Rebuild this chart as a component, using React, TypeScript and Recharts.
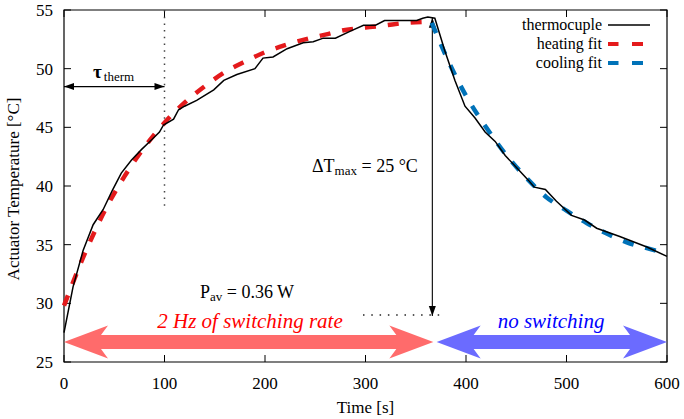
import React from 'react';
import { LineChart, Line, XAxis, YAxis, ReferenceLine, ReferenceArea, ReferenceDot, Legend } from 'recharts';

const FONT = "'Liberation Serif', 'Times New Roman', Times, serif";

// axis ticks
const xTicks = [0, 100, 200, 300, 400, 500, 600];
const yTicks = [25, 30, 35, 40, 45, 50, 55];

// thermocouple measurement
const thermoTime = [0, 9, 19, 29, 39, 48, 57, 67, 77, 88, 95, 99, 109, 114, 120, 132, 149, 159, 172, 190, 198, 208, 222, 238, 248, 258, 270, 285, 298, 310, 319, 351, 357, 362, 369, 379, 389, 399, 409, 419, 429, 439, 450, 462, 468, 479, 490, 505, 518, 530, 553, 580, 600];
const thermoTemp = [27.5, 31.4, 34.5, 36.7, 38.0, 39.6, 41.1, 42.2, 43.1, 44.0, 44.6, 45.2, 45.7, 46.5, 46.8, 47.3, 48.2, 49.0, 49.5, 50.0, 50.9, 51.0, 51.7, 52.2, 52.3, 52.6, 52.6, 53.2, 53.7, 53.7, 54.1, 54.1, 54.3, 54.4, 54.3, 51.5, 49.0, 46.8, 45.8, 44.6, 43.8, 42.6, 41.6, 40.5, 39.9, 39.7, 38.7, 37.5, 37.1, 36.4, 35.7, 34.8, 34.0];

// heating fit
const heatTime = [0, 20, 40, 60, 80, 100, 120, 140, 160, 180, 200, 220, 240, 260, 280, 300, 320, 340, 362];
const heatTemp = [29.8, 34.1, 37.8, 40.8, 43.3, 45.4, 47.1, 48.5, 49.7, 50.6, 51.4, 52.0, 52.5, 52.9, 53.3, 53.5, 53.7, 53.9, 54.0];

// cooling fit
const coolTime = [366, 380, 390, 400, 420, 440, 460, 480, 500, 520, 540, 560, 580, 600];
const coolTemp = [53.9, 51.1, 49.3, 47.7, 45.0, 42.65, 40.7, 39.05, 37.9, 36.85, 35.95, 35.2, 34.7, 34.25];

const legendLabels = ['thermocuple', 'heating fit', 'cooling fit'];

// annotation anchors (data coordinates)
const tauSpan = [0, 100];
const tauLevel = 48.47;
const tauDottedTop = 55;
const tauDottedBottom = 38.3;
const deltaTime = 366.5;
const deltaTop = 54.33;
const deltaBottom = 28.92;
const dottedLevel = 29.0;
const dottedSpan = [297.5, 377];
const heatingPhase = [0, 367.5];
const coolingPhase = [370.8, 600];
const phaseLevel = 26.7;

const RED = '#e41a1c';
const BLUE = '#0072b8';

const toRows = (ts: number[], vs: number[]) => ts.map((t, i) => ({ t, T: vs[i] }));
const thermoData = toRows(thermoTime, thermoTemp);
const heatData = toRows(heatTime, heatTemp);
const coolData = toRows(coolTime, coolTemp);

const thinArrow = (p: any) => {
  const { x1, y1, x2, y2 } = p;
  const L = Math.hypot(x2 - x1, y2 - y1) || 1;
  const dx = (x2 - x1) / L, dy = (y2 - y1) / L;
  const nx = -dy, ny = dx;
  const len = 10, hw = 3.5;
  const head = (tx: number, ty: number, sx: number, sy: number) =>
    `${tx},${ty} ${tx - sx * len + nx * hw},${ty - sy * len + ny * hw} ${tx - sx * len - nx * hw},${ty - sy * len - ny * hw}`;
  return (
    <g>
      <line x1={x1} y1={y1} x2={x2} y2={y2} stroke="#000" strokeWidth={1.1} />
      <polygon points={head(x2, y2, dx, dy)} fill="#000" />
      <polygon points={head(x1, y1, -dx, -dy)} fill="#000" />
    </g>
  );
};

const bigArrow = (color: string) => (p: any) => {
  const { x1, x2, y1 } = p;
  const left = Math.min(x1, x2), right = Math.max(x1, x2), y = y1;
  const H = 44, N = 37, hh = 16.5, hs = 7;
  const pts = [
    [left, y], [left + H, y - hh], [left + N, y - hs], [right - N, y - hs], [right - H, y - hh],
    [right, y], [right - H, y + hh], [right - N, y + hs], [left + N, y + hs], [left + H, y + hh],
  ];
  return <polygon points={pts.map((q) => q.join(',')).join(' ')} fill={color} />;
};

const xTickShape = (p: any) => {
  const top = Math.min(p.y1, p.y2), bot = Math.max(p.y1, p.y2);
  return (
    <g stroke="#000" strokeWidth={1}>
      <line x1={p.x1} x2={p.x1} y1={bot} y2={bot - 7} />
      <line x1={p.x1} x2={p.x1} y1={top} y2={top + 7} />
    </g>
  );
};
const yTickShape = (p: any) => {
  const l = Math.min(p.x1, p.x2), r = Math.max(p.x1, p.x2);
  return (
    <g stroke="#000" strokeWidth={1}>
      <line x1={l} x2={l + 7} y1={p.y1} y2={p.y1} />
      <line x1={r} x2={r - 7} y1={p.y1} y2={p.y1} />
    </g>
  );
};

const renderLegend = () => (
  <div style={{ fontFamily: FONT, fontSize: 16, color: '#000' }}>
    {legendLabels.map((lab, i) => (
      <div key={lab} style={{ display: 'flex', justifyContent: 'flex-end', alignItems: 'center', height: 19 }}>
        <span style={{ lineHeight: '19px', whiteSpace: 'nowrap' }}>{lab}</span>
        <svg width={42} height={10} style={{ marginLeft: 6, display: 'block' }}>
          {i === 0 ? (
            <line x1={0} x2={42} y1={5} y2={5} stroke="#000" strokeWidth={1.5} />
          ) : (
            <g fill={i === 1 ? RED : BLUE}>
              <rect x={0} y={3} width={10.5} height={4} />
              <rect x={24} y={3} width={11} height={4} />
            </g>
          )}
        </svg>
      </div>
    ))}
  </div>
);

const yLabel = (props: any) => {
  const vb = props.viewBox || { x: 0, y: 10, width: 64, height: 352 };
  const cx = vb.x + 19;
  const cy = vb.y + vb.height / 2 + 3;
  return (
    <text x={cx} y={cy} transform={`rotate(-90 ${cx} ${cy})`} textAnchor="middle" fontFamily={FONT} fontSize={17} fill="#000">
      Actuator Temperature [°C]
    </text>
  );
};

export default function App() {
  return (
    <div style={{ position: 'absolute', left: 0, top: 0, background: '#fff' }}>
      <LineChart width={684} height={419} margin={{ top: 10, right: 17, left: 0, bottom: 0 }}>
        <XAxis
          type="number"
          dataKey="t"
          domain={[0, 600]}
          ticks={xTicks}
          tickLine={false}
          axisLine={false}
          tickMargin={9}
          height={57}
          tick={{ fontSize: 17, fill: '#000', fontFamily: FONT }}
          label={{ value: 'Time [s]', position: 'insideBottom', offset: 6, fill: '#000', fontSize: 17, fontFamily: FONT }}
        />
        <YAxis
          type="number"
          domain={[25, 55]}
          ticks={yTicks}
          tickLine={false}
          axisLine={false}
          tickMargin={5}
          width={64}
          tick={{ fontSize: 17, fill: '#000', fontFamily: FONT }}
          label={yLabel}
        />
        <ReferenceArea x1={0} x2={600} y1={25} y2={55} fill="none" stroke="#000" strokeWidth={1.2} ifOverflow="visible" />
        {xTicks.map((t) => (
          <ReferenceLine key={'xt' + t} x={t} ifOverflow="visible" shape={xTickShape} />
        ))}
        {yTicks.map((v) => (
          <ReferenceLine key={'yt' + v} y={v} ifOverflow="visible" shape={yTickShape} />
        ))}

        <ReferenceLine
          segment={[{ x: tauSpan[1], y: tauDottedTop }, { x: tauSpan[1], y: tauDottedBottom }]}
          stroke="#444"
          strokeWidth={1.5}
          strokeDasharray="1.5 5.2"
          ifOverflow="visible"
        />
        <ReferenceLine
          segment={[{ x: dottedSpan[0], y: dottedLevel }, { x: dottedSpan[1], y: dottedLevel }]}
          stroke="#222"
          strokeWidth={1.5}
          strokeDasharray="1.5 6.8"
          ifOverflow="visible"
        />
        <ReferenceLine
          segment={[{ x: tauSpan[0], y: tauLevel }, { x: tauSpan[1], y: tauLevel }]}
          ifOverflow="visible"
          shape={thinArrow}
        />
        <ReferenceLine
          segment={[{ x: deltaTime, y: deltaTop }, { x: deltaTime, y: deltaBottom }]}
          ifOverflow="visible"
          shape={thinArrow}
        />
        <ReferenceLine
          segment={[{ x: heatingPhase[0], y: phaseLevel }, { x: heatingPhase[1], y: phaseLevel }]}
          ifOverflow="visible"
          shape={bigArrow('#ff6b6b')}
        />
        <ReferenceLine
          segment={[{ x: coolingPhase[0], y: phaseLevel }, { x: coolingPhase[1], y: phaseLevel }]}
          ifOverflow="visible"
          shape={bigArrow('#6b6bff')}
        />

        <Line data={heatData} dataKey="T" type="monotone" stroke={RED} strokeWidth={4.5} strokeDasharray="11 12" dot={false} activeDot={false} isAnimationActive={false} />
        <Line data={coolData} dataKey="T" type="monotone" stroke={BLUE} strokeWidth={4.5} strokeDasharray="11 12" dot={false} activeDot={false} isAnimationActive={false} />
        <Line data={thermoData} dataKey="T" type="linear" stroke="#000" strokeWidth={1.5} dot={false} activeDot={false} isAnimationActive={false} />

        <ReferenceDot
          x={28.9}
          y={49.21}
          r={1}
          ifOverflow="visible"
          shape={(p: any) => (
            <text x={p.cx} y={p.cy} fontFamily={FONT} fontSize={19} fontWeight="bold" fill="#000">
              τ
              <tspan fontSize={13} fontWeight="normal" dx={2} dy={3}>therm</tspan>
            </text>
          )}
        />
        <ReferenceDot
          x={246.8}
          y={41.2}
          r={1}
          ifOverflow="visible"
          shape={(p: any) => (
            <text x={p.cx} y={p.cy} fontFamily={FONT} fontSize={18} fill="#000">
              ΔT
              <tspan fontSize={13} dy={3}>max</tspan>
              <tspan dy={-3}> = 25 °C</tspan>
            </text>
          )}
        />
        <ReferenceDot
          x={135.3}
          y={30.46}
          r={1}
          ifOverflow="visible"
          shape={(p: any) => (
            <text x={p.cx} y={p.cy} fontFamily={FONT} fontSize={18} fill="#000">
              P
              <tspan fontSize={13} dy={3}>av</tspan>
              <tspan dy={-3}> = 0.36 W</tspan>
            </text>
          )}
        />
        <ReferenceDot
          x={185.1}
          y={27.9}
          r={1}
          ifOverflow="visible"
          shape={(p: any) => (
            <text x={p.cx} y={p.cy} textAnchor="middle" fontFamily={FONT} fontSize={21} fontStyle="italic" fill="#f00">
              2 Hz of switching rate
            </text>
          )}
        />
        <ReferenceDot
          x={484.6}
          y={27.9}
          r={1}
          ifOverflow="visible"
          shape={(p: any) => (
            <text x={p.cx} y={p.cy} textAnchor="middle" fontFamily={FONT} fontSize={21} fontStyle="italic" fill="#00f">
              no switching
            </text>
          )}
        />

        <Legend
          layout="vertical"
          align="center"
          verticalAlign="middle"
          content={renderLegend}
          wrapperStyle={{ left: 418, top: 15, width: 232, height: 57 }}
        />
      </LineChart>
    </div>
  );
}
